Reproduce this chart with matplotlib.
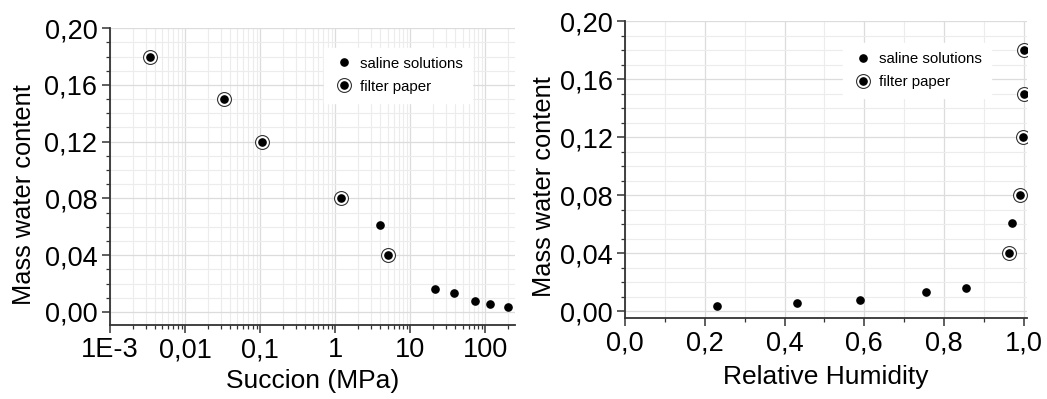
import numpy as np
import matplotlib
matplotlib.use('Agg')
import matplotlib.pyplot as plt
from matplotlib.ticker import FixedLocator, FuncFormatter, MultipleLocator, LogLocator, NullFormatter
from matplotlib.legend_handler import HandlerTuple

plt.rcParams['font.family'] = ['Liberation Sans', 'DejaVu Sans']

# data
fp_suction = [0.0034, 0.0334, 0.106, 1.19, 5.05]
fp_water = [0.18, 0.15, 0.12, 0.08, 0.04]
fp_rh = [0.999, 0.999, 0.998, 0.990, 0.963]

ss_suction = [3.98, 21.3, 38.6, 72.9, 114.0, 203.0]
ss_water = [0.061, 0.0164, 0.0132, 0.008, 0.0054, 0.0037]
ss_rh = [0.970, 0.854, 0.754, 0.590, 0.431, 0.230]

suction_ticks = [1e-3, 1e-2, 1e-1, 1, 10, 100]
suction_labels = ['1E-3', '0,01', '0,1', '1', '10', '100']
water_ticks = [0.00, 0.04, 0.08, 0.12, 0.16, 0.20]
rh_ticks = [0.0, 0.2, 0.4, 0.6, 0.8, 1.0]

fig = plt.figure(figsize=(10.47, 3.99), dpi=100)
ax1 = fig.add_axes([0.105, 0.1855, 0.387, 0.744])
ax2 = fig.add_axes([0.597, 0.203, 0.384, 0.744])

spine_col = '#333333'
grid_major = '#dcdcdc'
grid_minor = '#ececec'


def comma(v, pos):
    return f'{v:.2f}'.replace('.', ',')


def draw(ax, xf, xs):
    ax.plot(xs, ss_water, 'o', color='black', ms=5.2, zorder=3)
    ax.plot(xf, fp_water, 'o', mfc='white', mec='#333333', mew=0.8, ms=10, zorder=3)
    ax.plot(xf, fp_water, 'o', color='black', ms=5.2, zorder=4)
    # legend proxies
    ring, = ax.plot([], [], 'o', mfc='white', mec='#333333', mew=0.8, ms=10)
    dot, = ax.plot([], [], 'o', color='black', ms=5.2)
    return [dot, (ring, dot)], ['saline solutions', 'filter paper']


def style(ax):
    for s in ('top', 'right'):
        ax.spines[s].set_visible(False)
    for s in ('left', 'bottom'):
        ax.spines[s].set_color(spine_col)
        ax.spines[s].set_linewidth(1.3)
    ax.tick_params(which='major', direction='out', length=6, width=1.1,
                   color=spine_col, labelsize=19.5, pad=3)
    ax.tick_params(which='minor', direction='out', length=3, width=0.9, color=spine_col)
    ax.grid(which='major', color=grid_major, lw=0.9, zorder=0)
    ax.grid(which='minor', color=grid_minor, lw=0.8, zorder=0)
    ax.set_axisbelow(True)
    ax.yaxis.set_major_locator(FixedLocator(water_ticks))
    ax.yaxis.set_minor_locator(MultipleLocator(0.01))
    ax.yaxis.set_major_formatter(FuncFormatter(comma))
    ax.set_ylabel('Mass water content', fontsize=18.3)


def add_legend(ax, h, l, anchor):
    ax.legend(h, l, loc='upper left', bbox_to_anchor=anchor, fontsize=10.8,
              frameon=True, framealpha=1, edgecolor='white', fancybox=False,
              handler_map={tuple: HandlerTuple(ndivide=1, pad=0)},
              handletextpad=0.3, handlelength=1.5, borderpad=0.6, labelspacing=0.6)


# left: water content vs suction
h, l = draw(ax1, fp_suction, ss_suction)
ax1.set_xscale('log')
ax1.set_xlim(1e-3, 250)
ax1.set_ylim(-0.0092, 0.20)
style(ax1)
ax1.xaxis.set_major_locator(FixedLocator(suction_ticks))
ax1.xaxis.set_major_formatter(FuncFormatter(
    lambda v, p: suction_labels[suction_ticks.index(v)] if v in suction_ticks else ''))
ax1.xaxis.set_minor_locator(LogLocator(base=10, subs=np.arange(2, 10), numticks=20))
ax1.xaxis.set_minor_formatter(NullFormatter())
ax1.set_xlabel('Succion (MPa)', fontsize=19, labelpad=4)
ax1.yaxis.set_label_coords(-0.183, 0.44)
add_legend(ax1, h, l, (0.51, 0.96))

# right: water content vs relative humidity
h, l = draw(ax2, fp_rh, ss_rh)
ax2.set_xlim(0.0, 1.008)
ax2.set_ylim(-0.0046, 0.20)
style(ax2)
ax2.xaxis.set_major_locator(FixedLocator(rh_ticks))
ax2.xaxis.set_minor_locator(MultipleLocator(0.1))
ax2.xaxis.set_major_formatter(FuncFormatter(lambda v, p: f'{v:.1f}'.replace('.', ',')))
ax2.set_xlabel('Relative Humidity', fontsize=19, labelpad=6)
ax2.yaxis.set_label_coords(-0.172, 0.444)
add_legend(ax2, h, l, (0.523, 0.95))

fig.savefig('out.png', dpi=100)
